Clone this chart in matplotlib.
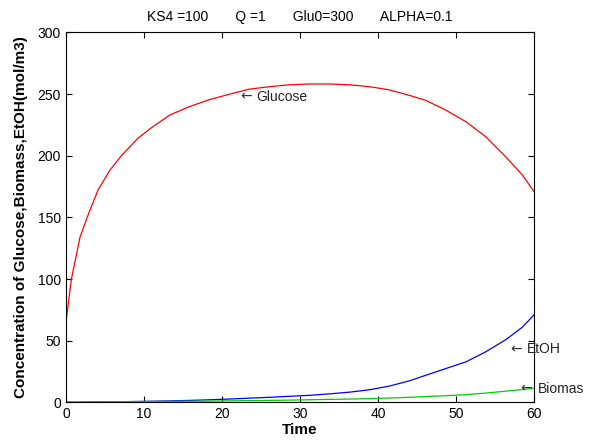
import matplotlib
matplotlib.use("Agg")
import matplotlib.pyplot as plt

# values
time = [0, 0.7, 1.8, 2.9, 4.1, 5.6, 7.1, 9.2, 10.8, 13.3, 15.9, 18.4, 21, 23.5, 26.1,
        28.6, 31.2, 33.8, 36.4, 38.9, 41.4, 44, 46.1, 48.7, 51.3, 53.8, 56.4, 58.5, 60]
glucose = [65, 100, 134, 153, 172, 188, 200, 214, 222, 233, 240, 245.5, 250, 254, 256,
           257.5, 258.2, 258.2, 257.5, 256, 253.5, 249, 245, 237, 227.5, 215.5, 199, 184.5, 171]
etoh = [0, 0.1, 0.2, 0.3, 0.4, 0.5, 0.6, 0.8, 1.0, 1.3, 1.7, 2.2, 2.8, 3.5, 4.2,
        5.0, 5.8, 7.0, 8.4, 10.3, 13.2, 17.5, 22, 27.5, 33, 41, 51, 61, 71]
biomass = [0.5, 0.5, 0.5, 0.6, 0.6, 0.7, 0.7, 0.8, 0.8, 0.9, 1.0, 1.1, 1.3, 1.5, 1.7,
           1.9, 2.2, 2.5, 2.8, 3.1, 3.6, 4.2, 4.8, 5.5, 6.4, 7.6, 9.2, 10.5, 11.5]

title_text = "KS4 =100       Q =1       Glu0=300       ALPHA=0.1"
labels = [("Glucose", 22.3, 248), ("EtOH", 57.0, 43), ("Biomas", 58.3, 11)]

plt.rcParams['font.family'] = ['Liberation Sans', 'DejaVu Sans']

fig = plt.figure(figsize=(5.94, 4.44), dpi=100)
ax = fig.add_axes([0.111, 0.0935, 0.788, 0.8335])

ax.plot(time, glucose, color="red", lw=0.9)
ax.plot(time, etoh, color="blue", lw=0.9)
ax.plot(time, biomass, color="#00cc00", lw=0.9)

# arrow in DejaVu (longer glyph), then the word next to it
for txt, x, y in labels:
    ax.text(x, y, "\u2190", fontsize=10, family="DejaVu Sans", color="#333333",
            ha="left", va="center", clip_on=False)
    ax.annotate(txt, xy=(x, y), xytext=(12, 0), textcoords="offset points",
                fontsize=10, ha="left", va="center", color="#222222", annotation_clip=False)

ax.set_xlim(0, 60)
ax.set_ylim(0, 300)
ax.set_xticks(range(0, 61, 10))
ax.set_yticks(range(0, 301, 50))
ax.tick_params(direction="in", top=True, right=True, labelsize=10, length=4)
for s in ax.spines.values():
    s.set_linewidth(0.8)

ax.set_title(title_text, fontsize=10, pad=8)
ax.set_xlabel("Time", fontsize=11, fontweight="bold", labelpad=1)
ax.set_ylabel("Concentration of Glucose,Biomass,EtOH(mol/m3)", fontsize=11, fontweight="bold", labelpad=7)

fig.savefig("out.png", dpi=100)
